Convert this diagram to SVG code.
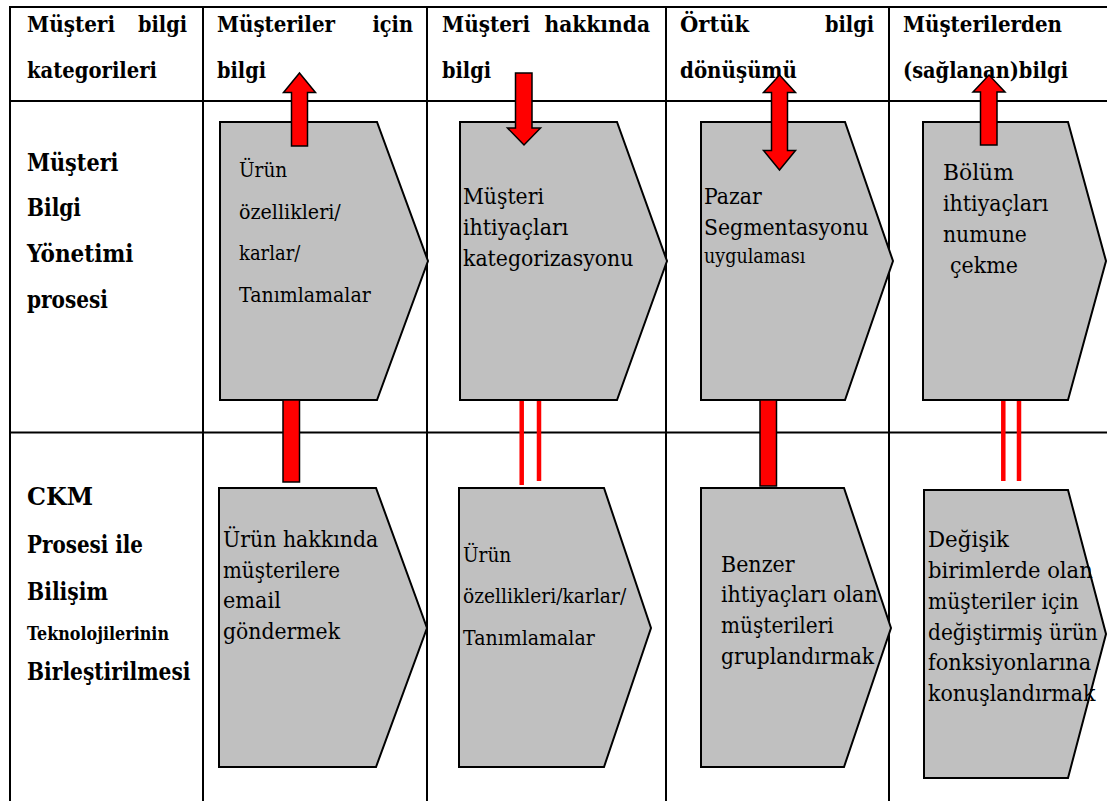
<svg xmlns="http://www.w3.org/2000/svg" width="1107" height="801" viewBox="0 0 1107 801">
  <defs>
    <style>
      .grid { stroke: #000; stroke-width: 2; fill: none; }
      text { font-family: 'DejaVu Serif', serif; fill: #000; }
      .hdr { font-weight: bold; font-size: 23px; }
      .lbl { font-weight: bold; font-size: 24px; }
      .lbl-sm { font-weight: bold; font-size: 18px; }
      .step { fill: #C0C0C0; stroke: #000; stroke-width: 2; }
      .txt { font-size: 23px; }
      .txt-a { font-size: 21px; }
      .txt-s { font-size: 19.5px; }
      .arrow { fill: #FF0000; stroke: #000; stroke-width: 1.5; stroke-linejoin: miter; }
      .link { stroke: #FF0000; stroke-width: 4.5; fill: none; }
    </style>
  </defs>
  <rect x="0" y="0" width="1107" height="801" fill="#fff"/>

  <!-- table grid -->
  <g id="grid" class="grid">
    <line x1="10" y1="7" x2="1107" y2="7"/>
    <line x1="10" y1="101" x2="1107" y2="101"/>
    <line x1="10" y1="432.5" x2="1107" y2="432.5"/>
    <line x1="10" y1="6" x2="10" y2="801"/>
    <line x1="203" y1="6" x2="203" y2="801"/>
    <line x1="427" y1="6" x2="427" y2="801"/>
    <line x1="666" y1="6" x2="666" y2="801"/>
    <line x1="889" y1="6" x2="889" y2="801"/>
  </g>

  <!-- column headers (first lines justified across the cell) -->
  <g id="header-categories" class="hdr" lengthAdjust="spacingAndGlyphs">
    <text x="27" y="32" textLength="88" lengthAdjust="spacingAndGlyphs">Müşteri</text>
    <text x="138" y="32" textLength="49" lengthAdjust="spacingAndGlyphs">bilgi</text>
    <text x="27" y="78" textLength="130" lengthAdjust="spacingAndGlyphs">kategorileri</text>
  </g>
  <g id="header-for-customers" class="hdr">
    <text x="217" y="32" textLength="118" lengthAdjust="spacingAndGlyphs">Müşteriler</text>
    <text x="372.5" y="32" textLength="40.5" lengthAdjust="spacingAndGlyphs">için</text>
    <text x="217" y="78" textLength="49" lengthAdjust="spacingAndGlyphs">bilgi</text>
  </g>
  <g id="header-about-customers" class="hdr">
    <text x="442" y="32" textLength="88" lengthAdjust="spacingAndGlyphs">Müşteri</text>
    <text x="544.5" y="32" textLength="105.5" lengthAdjust="spacingAndGlyphs">hakkında</text>
    <text x="442" y="78" textLength="49" lengthAdjust="spacingAndGlyphs">bilgi</text>
  </g>
  <g id="header-tacit" class="hdr">
    <text x="680" y="32" textLength="69" lengthAdjust="spacingAndGlyphs">Örtük</text>
    <text x="825" y="32" textLength="49" lengthAdjust="spacingAndGlyphs">bilgi</text>
    <text x="680" y="78" textLength="117" lengthAdjust="spacingAndGlyphs">dönüşümü</text>
  </g>
  <g id="header-from-customers" class="hdr">
    <text x="903" y="32" textLength="159" lengthAdjust="spacingAndGlyphs">Müşterilerden</text>
    <text x="903" y="78" textLength="165" lengthAdjust="spacingAndGlyphs">(sağlanan)bilgi</text>
  </g>

  <!-- row headers -->
  <g id="row-ckm-process" class="lbl">
    <text x="27" y="171" textLength="91.5" lengthAdjust="spacingAndGlyphs">Müşteri</text>
    <text x="27" y="216" textLength="54" lengthAdjust="spacingAndGlyphs">Bilgi</text>
    <text x="27" y="262" textLength="106.5" lengthAdjust="spacingAndGlyphs">Yönetimi</text>
    <text x="27" y="308" textLength="81" lengthAdjust="spacingAndGlyphs">prosesi</text>
  </g>
  <g id="row-it-integration">
    <text class="lbl" x="27" y="505" textLength="66" lengthAdjust="spacingAndGlyphs">CKM</text>
    <text class="lbl" x="27" y="553" textLength="116" lengthAdjust="spacingAndGlyphs">Prosesi ile</text>
    <text class="lbl" x="27" y="600" textLength="81" lengthAdjust="spacingAndGlyphs">Bilişim</text>
    <text class="lbl-sm" x="27" y="640" textLength="142" lengthAdjust="spacingAndGlyphs">Teknolojilerinin</text>
    <text class="lbl" x="27" y="680" textLength="163.5" lengthAdjust="spacingAndGlyphs">Birleştirilmesi</text>
  </g>

  <!-- process steps, upper row -->
  <g id="step-product-features">
    <polygon class="step" points="220,122 377,122 428,261 377,400 220,400"/>
    <g class="txt-a">
      <text x="239" y="177" textLength="48.3" lengthAdjust="spacingAndGlyphs">Ürün</text>
      <text x="239" y="219" textLength="101.8" lengthAdjust="spacingAndGlyphs">özellikleri/</text>
      <text x="239" y="260" textLength="61.3" lengthAdjust="spacingAndGlyphs">karlar/</text>
      <text x="239" y="302" textLength="131.8" lengthAdjust="spacingAndGlyphs">Tanımlamalar</text>
    </g>
  </g>
  <g id="step-needs-categorization">
    <polygon class="step" points="460,122 617,122 667,261 617,400 460,400"/>
    <g class="txt">
      <text x="463" y="204" textLength="80.9" lengthAdjust="spacingAndGlyphs">Müşteri</text>
      <text x="463" y="235" textLength="105.4" lengthAdjust="spacingAndGlyphs">ihtiyaçları</text>
      <text x="463" y="266" textLength="170.4" lengthAdjust="spacingAndGlyphs">kategorizasyonu</text>
    </g>
  </g>
  <g id="step-market-segmentation">
    <polygon class="step" points="701,122 845,122 893,261 845,400 701,400"/>
    <text class="txt" x="704" y="204" textLength="57.7" lengthAdjust="spacingAndGlyphs">Pazar</text>
    <text class="txt" x="704" y="235" textLength="164.7" lengthAdjust="spacingAndGlyphs">Segmentasyonu</text>
    <text class="txt-s" x="704" y="263" textLength="101.4" lengthAdjust="spacingAndGlyphs">uygulaması</text>
  </g>
  <g id="step-sampling">
    <polygon class="step" points="923,122 1068,122 1106,261 1068,400 923,400"/>
    <g class="txt">
      <text x="943" y="180" textLength="70.8" lengthAdjust="spacingAndGlyphs">Bölüm</text>
      <text x="943" y="211" textLength="105.4" lengthAdjust="spacingAndGlyphs">ihtiyaçları</text>
      <text x="943" y="242" textLength="83.8" lengthAdjust="spacingAndGlyphs">numune</text>
      <text x="950" y="273" textLength="67.9" lengthAdjust="spacingAndGlyphs">çekme</text>
    </g>
  </g>

  <!-- process steps, lower row -->
  <g id="step-email">
    <polygon class="step" points="219,488 376,488 427,628 376,767 219,767"/>
    <g class="txt">
      <text x="223" y="547" textLength="155.2" lengthAdjust="spacingAndGlyphs">Ürün hakkında</text>
      <text x="223" y="578" textLength="117" lengthAdjust="spacingAndGlyphs">müşterilere</text>
      <text x="223" y="608" textLength="57.8" lengthAdjust="spacingAndGlyphs">email</text>
      <text x="223" y="639" textLength="117" lengthAdjust="spacingAndGlyphs">göndermek</text>
    </g>
  </g>
  <g id="step-product-definitions">
    <polygon class="step" points="459,488 604,488 651,628 604,767 459,767"/>
    <g class="txt-a">
      <text x="463" y="562" textLength="48.3" lengthAdjust="spacingAndGlyphs">Ürün</text>
      <text x="463" y="603" textLength="163.2" lengthAdjust="spacingAndGlyphs">özellikleri/karlar/</text>
      <text x="463" y="645" textLength="131.8" lengthAdjust="spacingAndGlyphs">Tanımlamalar</text>
    </g>
  </g>
  <g id="step-grouping">
    <polygon class="step" points="701,488 844,488 891,628 844,767 701,767"/>
    <g class="txt">
      <text x="721" y="572" textLength="73.6" lengthAdjust="spacingAndGlyphs">Benzer</text>
      <text x="721" y="602" textLength="156.7" lengthAdjust="spacingAndGlyphs">ihtiyaçları olan</text>
      <text x="721" y="633" textLength="112.7" lengthAdjust="spacingAndGlyphs">müşterileri</text>
      <text x="721" y="664" textLength="153.1" lengthAdjust="spacingAndGlyphs">gruplandırmak</text>
    </g>
  </g>
  <g id="step-positioning">
    <polygon class="step" points="924,490 1068,490 1106,634 1068,778 924,778"/>
    <g class="txt">
      <text x="928" y="547" textLength="80.9" lengthAdjust="spacingAndGlyphs">Değişik</text>
      <text x="928" y="578" textLength="164.8" lengthAdjust="spacingAndGlyphs">birimlerde olan</text>
      <text x="928" y="609" textLength="150.9" lengthAdjust="spacingAndGlyphs">müşteriler için</text>
      <text x="928" y="640" textLength="169.7" lengthAdjust="spacingAndGlyphs">değiştirmiş ürün</text>
      <text x="928" y="670" textLength="163.2" lengthAdjust="spacingAndGlyphs">fonksiyonlarına</text>
      <text x="928" y="701" textLength="167.5" lengthAdjust="spacingAndGlyphs">konuşlandırmak</text>
    </g>
  </g>

  <!-- connectors: block arrows and links between rows -->
  <g id="connectors">
    <polygon class="arrow" points="299.5,73 315.5,92.5 307.5,92.5 307.5,146 291.5,146 291.5,92.5 283.5,92.5"/>
    <polygon class="arrow" points="515.5,73 532,73 532,128 540.5,128 524,145 507.5,128 515.5,128"/>
    <polygon class="arrow" points="779.5,75 795.5,92.5 787.5,92.5 787.5,150.5 795.5,150.5 779.5,170 763.5,150.5 771.5,150.5 771.5,92.5 763.5,92.5"/>
    <polygon class="arrow" points="989,75 1005,92 997,92 997,145 980.5,145 980.5,92 973,92"/>

    <rect class="arrow" x="283" y="400" width="16.5" height="82"/>
    <rect class="arrow" x="760" y="400" width="16.5" height="86"/>

    <line class="link" x1="521.7" y1="401" x2="521.7" y2="485"/>
    <line class="link" x1="539" y1="401" x2="539" y2="481"/>
    <line class="link" x1="1003.3" y1="401" x2="1003.3" y2="481"/>
    <line class="link" x1="1019" y1="401" x2="1019" y2="481"/>
  </g>
</svg>
